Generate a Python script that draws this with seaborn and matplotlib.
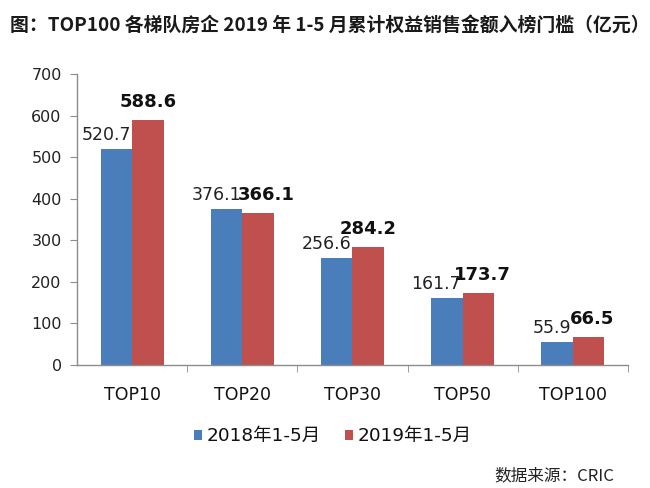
import matplotlib
matplotlib.use("Agg")
import matplotlib.pyplot as plt
import seaborn as sns
import pandas as pd

# values (亿元)
categories = ["TOP10", "TOP20", "TOP30", "TOP50", "TOP100"]
series_names = ["2018年1-5月", "2019年1-5月"]
values_2018 = [520.7, 376.1, 256.6, 161.7, 55.9]
values_2019 = [588.6, 366.1, 284.2, 173.7, 66.5]
y_ticks = [0, 100, 200, 300, 400, 500, 600, 700]

title = "图：TOP100 各梯队房企 2019 年 1-5 月累计权益销售金额入榜门槛（亿元）"
source = "数据来源：CRIC"

df = pd.DataFrame({
    "cat": categories * 2,
    "series": [series_names[0]] * 5 + [series_names[1]] * 5,
    "value": values_2018 + values_2019,
})

sns.set_style("white")
plt.rcParams["font.family"] = ["DejaVu Sans", "Noto Sans CJK SC"]

fig = plt.figure(figsize=(6.5, 4.88), dpi=100)
ax = fig.add_axes([0.1185, 0.252, 0.8475, 0.596])

palette = ["#4a7ebb", "#c0504d"]
sns.barplot(data=df, x="cat", y="value", hue="series", palette=palette,
            width=0.57, saturation=1, linewidth=0, ax=ax, legend=True)

ax.set_ylim(0, 700)
ax.set_yticks(y_ticks)
ax.set_xlim(-0.5, len(categories) - 0.5)
ax.set_xlabel("")
ax.set_ylabel("")

for s in ["top", "right"]:
    ax.spines[s].set_visible(False)
for s in ["left", "bottom"]:
    ax.spines[s].set_color("#8c8c8c")
    ax.spines[s].set_linewidth(1.0)

ax.tick_params(axis="y", which="both", left=True, length=5, color="#8c8c8c",
               labelsize=11.5, labelcolor="#222222", pad=6)
ax.set_xticks(range(len(categories)))
ax.set_xticklabels(categories, fontsize=12.5, color="#111111")
ax.tick_params(axis="x", length=0, pad=15)
# boundary ticks between categories
ax.set_xticks([i + 0.5 for i in range(len(categories))], minor=True)
ax.tick_params(axis="x", which="minor", bottom=True, length=5, color="#8c8c8c")

# value labels (red labels nudged right a little where they would hit the blue ones)
red_nudge_px = [0, 8, 0, 4, 4]
blue_bars, red_bars = ax.containers[0], ax.containers[1]
for bar, v in zip(blue_bars, values_2018):
    ax.annotate(f"{v:.1f}", (bar.get_x() + bar.get_width(), bar.get_height()),
                xytext=(-1, 6.5), textcoords="offset points", ha="right", va="baseline",
                fontsize=12.5, color="#222222")
for bar, v, dx in zip(red_bars, values_2019, red_nudge_px):
    ax.annotate(f"{v:.1f}", (bar.get_x() + bar.get_width() / 2, bar.get_height()),
                xytext=(dx * 0.72, 9.4), textcoords="offset points", ha="center", va="baseline",
                fontsize=13, fontweight="bold", color="#111111")

leg = ax.legend(loc="center", bbox_to_anchor=(0.464, -0.245), ncol=2, frameon=False,
                fontsize=13.3, handlelength=0.45, handleheight=0.45, handletextpad=0.25,
                columnspacing=1.3)
for t in leg.get_texts():
    t.set_color("#111111")

fig.text(0.015, 0.948, title, fontsize=13.6, fontweight="bold", color="#1a1a1a",
         family=["Noto Sans CJK SC", "DejaVu Sans"], va="center", ha="left")
fig.text(0.945, 0.025, source, fontsize=12, color="#222222",
         family=["Noto Sans CJK SC", "DejaVu Sans"], va="center", ha="right")

fig.savefig("out.png", dpi=100)
